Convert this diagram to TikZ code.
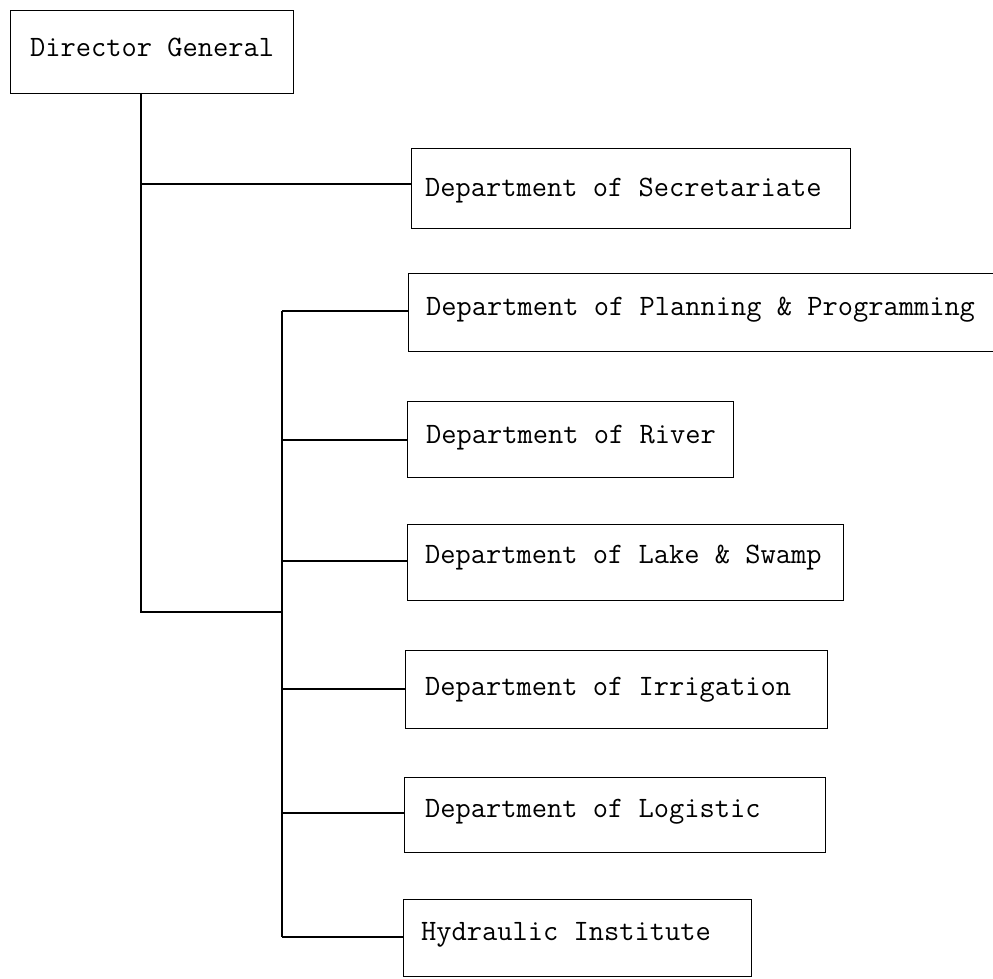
\documentclass[tikz,border=0pt]{standalone}
\usepackage{fontspec}
\begin{document}
\begin{tikzpicture}[x=1pt,y=-1pt,
  orgbox/.style={draw, line width=1.2pt, rectangle, inner sep=0pt, anchor=north west},
  orgtext/.style={font=\ttfamily\fontsize{29.6}{35}\selectfont, inner sep=0pt, anchor=base west},
  link/.style={line width=1.2pt}]
\useasboundingbox (0,0) rectangle (993,979);
\clip (0,0) rectangle (993,979);
% boxes
\node[orgbox, minimum width=283pt, minimum height=83pt] (dg) at (10,10) {};
\node[orgbox, minimum width=439pt, minimum height=80pt] (sec) at (411,148) {};
\node[orgbox, minimum width=610pt, minimum height=78pt] (plan) at (408,273) {};
\node[orgbox, minimum width=326pt, minimum height=76pt] (river) at (407,401) {};
\node[orgbox, minimum width=436pt, minimum height=76pt] (lake) at (407,524) {};
\node[orgbox, minimum width=422pt, minimum height=78pt] (irr) at (405,650) {};
\node[orgbox, minimum width=421pt, minimum height=75pt] (log) at (404,777) {};
\node[orgbox, minimum width=348pt, minimum height=77pt] (hyd) at (403,899) {};
% texts
\node[orgtext] (dgT) at (30,57) {Director General};
\node[orgtext] (secT) at (425,196) {Department of Secretariate};
\node[orgtext] (planT) at (426,315) {Department of Planning \& Programming};
\node[orgtext] (riverT) at (426,443) {Department of River};
\node[orgtext] (lakeT) at (425,563) {Department of Lake \& Swamp};
\node[orgtext] (irrT) at (425,695) {Department of Irrigation};
\node[orgtext] (logT) at (425,817) {Department of Logistic};
\node[orgtext] (hydT) at (421,940) {Hydraulic Institute};
% trunk coordinates
\coordinate (t1top) at (141,93);
\coordinate (jsec) at (141,184);
\coordinate (t1bot) at (141,612);
\coordinate (t2mid) at (282,612);
\coordinate (jplan) at (282,311);
\coordinate (jriver) at (282,440);
\coordinate (jlake) at (282,561);
\coordinate (jirr) at (282,689);
\coordinate (jlog) at (282,813);
\coordinate (jhyd) at (282,937);
% connectors
\draw[link] (t1top) -- (t1bot) -- (t2mid);
\draw[link] (jsec) -- (jsec -| sec.west);
\draw[link] (jplan) -- (jhyd);
\draw[link] (jplan) -- (jplan -| plan.west);
\draw[link] (jriver) -- (jriver -| river.west);
\draw[link] (jlake) -- (jlake -| lake.west);
\draw[link] (jirr) -- (jirr -| irr.west);
\draw[link] (jlog) -- (jlog -| log.west);
\draw[link] (jhyd) -- (jhyd -| hyd.west);
\end{tikzpicture}
\end{document}
